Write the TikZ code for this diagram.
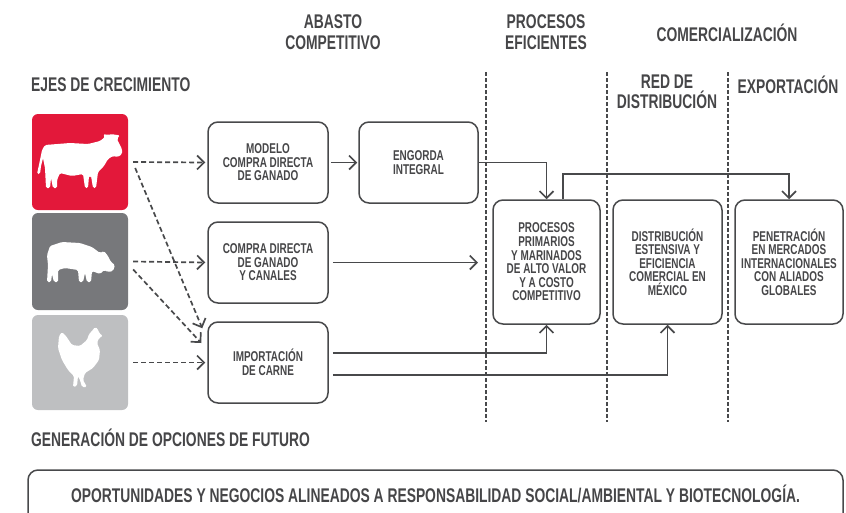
\documentclass[tikz,border=0pt]{standalone}
\usepackage{fontspec}
\setmainfont{Liberation Sans}[FakeStretch=0.70]
\usetikzlibrary{arrows.meta}
\definecolor{txt}{HTML}{464648}
\definecolor{ln}{HTML}{48494B}
\definecolor{tred}{HTML}{E3183A}
\definecolor{tdark}{HTML}{77787B}
\definecolor{tlight}{HTML}{BEBFC1}
\tikzset{
  box/.style={draw=ln, line width=1.5pt, rounded corners=10pt, align=center,
    text=txt, font=\fontsize{14.2}{13.6}\selectfont\bfseries, inner sep=2pt},
  tile/.style={rounded corners=6pt, minimum width=96pt, inner sep=0pt},
  head/.style={text=txt, font=\fontsize{19.8}{20.5}\selectfont\bfseries, align=center, inner sep=0pt},
  conn/.style={draw=ln, line width=1.7pt, -{Straight Barb[length=7pt,width=14pt,line width=1.7pt]}},
  dconn/.style={conn, dash pattern=on 5pt off 3pt},
  sep/.style={draw=ln, line width=1.4pt, dash pattern=on 4pt off 2pt},
  animal/.style={fill=white, rounded corners=1.5pt},
}
\begin{document}
\begin{tikzpicture}[x=1pt,y=-1pt]
\useasboundingbox (0,0) rectangle (846,512);
% headers
\node[head] (habasto) at (333,32) {ABASTO\\COMPETITIVO};
\node[head] (hproc) at (546,32) {PROCESOS\\EFICIENTES};
\node[head] (hcom) at (727,33) {COMERCIALIZACIÓN};
\node[head, anchor=west] (hejes) at (31,85) {EJES DE CRECIMIENTO};
\node[head] (hred) at (667,92) {RED DE\\DISTRIBUCIÓN};
\node[head] (hexp) at (788,85) {EXPORTACIÓN};
\node[head, anchor=west] (hgen) at (31,438) {GENERACIÓN DE OPCIONES DE FUTURO};
% separators
\coordinate (s1a) at (486,72); \coordinate (s1b) at (486,422);
\coordinate (s2a) at (607,72); \coordinate (s2b) at (607,422);
\coordinate (s3a) at (728,72); \coordinate (s3b) at (728,422);
\draw[sep] (s1a) -- (s1b);
\draw[sep] (s2a) -- (s2b);
\draw[sep] (s3a) -- (s3b);
% tiles
\node[tile, fill=tred, minimum height=96pt] (cow) at (80,162) {};
\node[tile, fill=tdark, minimum height=97pt] (pig) at (80,261.5) {};
\node[tile, fill=tlight, minimum height=95pt] (hen) at (80,362.5) {};
% cow
\path[animal] (45,145) -- (70,143) -- (88,144) -- (100,141) -- (105,137) -- (103,134) -- (108,135) -- (112,134) -- (116,135) -- (120,135) -- (117,139) -- (119,143) -- (122,149) -- (122,154) -- (118,157) -- (113,156) -- (108,159) -- (104,166) -- (98,172) -- (96,188) -- (93,188) -- (91,176) -- (89,176) -- (88,188) -- (85,188) -- (83,174) -- (72,176) -- (60,173) -- (57,180) -- (57,188) -- (53,188) -- (51,178) -- (50,188) -- (46,188) -- (45,168) -- (43,158) -- (41,166) -- (40,174) -- (37,174) -- (40,160) -- (42,150) -- cycle;
% pig
\path[animal] (50,246) -- (62,242) -- (80,243) -- (92,247) -- (100,253) -- (104,251) -- (108,256) -- (111,262) -- (115,265) -- (113,271) -- (108,272) -- (104,270) -- (100,274) -- (92,271) -- (91,282) -- (87,282) -- (85,273) -- (83,282) -- (79,282) -- (78,270) -- (65,268) -- (58,270) -- (58,282) -- (54,282) -- (52,274) -- (51,282) -- (47,282) -- (48,265) -- (47,255) -- cycle;
% hen
\path[animal] (92,331) -- (95,327) -- (98,329) -- (99,333) -- (103,336) -- (99,338) -- (97,343) -- (100,350) -- (99,360) -- (93,368) -- (85,373) -- (83,380) -- (87,387) -- (82,387) -- (80,380) -- (78,376) -- (77,386) -- (73,387) -- (74,376) -- (68,370) -- (62,360) -- (58,348) -- (59,336) -- (62,332) -- (66,336) -- (72,345) -- (80,346) -- (87,340) -- (89,334) -- cycle;
% boxes
\node[box, minimum width=120pt, minimum height=81pt] (modelo) at (268,162.5) {MODELO\\COMPRA DIRECTA\\DE GANADO};
\node[box, minimum width=120pt, minimum height=81pt] (compra) at (268,262.5) {COMPRA DIRECTA\\DE GANADO\\Y CANALES};
\node[box, minimum width=120pt, minimum height=81pt] (imp) at (268,362.5) {IMPORTACIÓN\\DE CARNE};
\node[box, minimum width=119pt, minimum height=81pt] (engorda) at (418.5,162.5) {ENGORDA\\INTEGRAL};
\node[box, minimum width=107pt, minimum height=124pt] (proc) at (546.5,262) {PROCESOS\\PRIMARIOS\\Y MARINADOS\\DE ALTO VALOR\\Y A COSTO\\COMPETITIVO};
\node[box, minimum width=109pt, minimum height=124pt] (dist) at (667.5,262) {DISTRIBUCIÓN\\ESTENSIVA Y\\EFICIENCIA\\COMERCIAL EN\\MÉXICO};
\node[box, minimum width=108pt, minimum height=124pt] (pen) at (789,262) {PENETRACIÓN\\EN MERCADOS\\INTERNACIONALES\\CON ALIADOS\\GLOBALES};
% bottom box
\begin{scope}
\clip (0,0) rectangle (846,512);
\draw[ln, line width=1.5pt, rounded corners=10pt] (28,470) rectangle (843,540);
\end{scope}
\node[head] (bottom) at (435.5,494) {OPORTUNIDADES Y NEGOCIOS ALINEADOS A RESPONSABILIDAD SOCIAL/AMBIENTAL Y BIOTECNOLOGÍA.};
% dashed connectors
\draw[dconn] ([xshift=5pt]cow.east) -- ([xshift=-2pt]modelo.west);
\draw[dconn] ([xshift=5pt]pig.east) -- ([xshift=-2pt]compra.west);
\draw[dconn] ([xshift=5pt]hen.east) -- ([xshift=-2pt]imp.west);
\draw[dconn] ([xshift=7pt,yshift=-6pt]cow.east) -- ([xshift=-5pt,yshift=-7pt]imp.north west);
\draw[dconn] ([xshift=5pt,yshift=-8pt]pig.east) -- ([xshift=-6pt,yshift=19.5pt]imp.west);
% solid connectors
\coordinate (ctip) at (478,262.5);
\draw[conn] ([xshift=2pt]modelo.east) -- ([xshift=-1pt]engorda.west);
\draw[conn] (engorda.east) -| (proc.north);
\draw[conn] ([xshift=16.5pt]proc.north) -- ++(0,-25) -| (pen.north);
\draw[conn] ([xshift=4pt]compra.east) -- (ctip);
\draw[conn] ([xshift=4pt,yshift=9.5pt]imp.east) -| (proc.south);
\draw[conn] ([xshift=4pt,yshift=-12.5pt]imp.east) -| (dist.south);
\end{tikzpicture}
\end{document}
